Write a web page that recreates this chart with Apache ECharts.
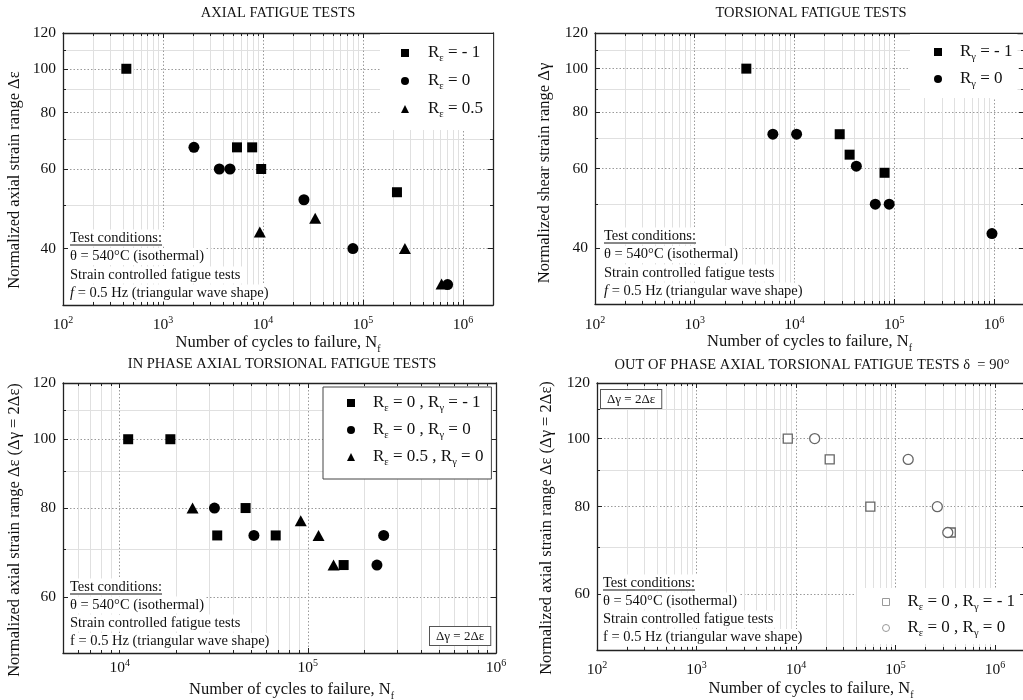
<!DOCTYPE html>
<html>
<head>
<meta charset="utf-8">
<script src="https://cdn.jsdelivr.net/npm/echarts@6/dist/echarts.min.js"></script>
<style>
html,body{margin:0;padding:0;background:#fff;}
#chart{width:1023px;height:700px;}
</style>
</head>
<body>
<div id="chart"></div>
<script>
// ---------------- DATA ----------------
// Panel 1: axial fatigue tests  (N = cycles to failure, V = normalized strain range)
const axialRm1N = [430, 5500, 7800, 9600, 219000];
const axialRm1V = [100, 67, 67, 60, 53.3];
const axialR0N = [2040, 3660, 4680, 25700, 79400, 703000];
const axialR0V = [67, 60, 60, 51.3, 40, 33.3];
const axialR05N = [9300, 33300, 263000, 612000];
const axialR05V = [43.5, 46.7, 40, 33.4];

// Panel 2: torsional fatigue tests
const torsRm1N = [3290, 28400, 35700, 80000];
const torsRm1V = [100, 71.5, 64.4, 58.7];
const torsR0N = [6070, 10500, 41700, 64600, 89000, 955000];
const torsR0V = [71.5, 71.5, 60.7, 50, 50, 43];

// Panel 3: in-phase axial torsional fatigue tests
const inPhaseAN = [11100, 18600, 46700, 33000, 67500, 155000];
const inPhaseAV = [100, 100, 80, 73.2, 73.2, 66.5];
const inPhaseBN = [31900, 51700, 253000, 233000];
const inPhaseBV = [80, 73.2, 73.2, 66.5];
const inPhaseCN = [24400, 91700, 114000, 137000];
const inPhaseCV = [80, 76.8, 73.2, 66.5];

// Panel 4: out-of-phase axial torsional fatigue tests (delta = 90 deg)
const outPhaseAN = [8260, 21800, 55800, 359000];
const outPhaseAV = [100, 93.4, 80, 73.5];
const outPhaseBN = [15400, 134000, 263000, 335000];
const outPhaseBV = [100, 93.4, 80, 73.5];

// Tick labels
const xDecadesWide = [2, 3, 4, 5, 6];      // 10^2 ... 10^6
const xDecadesNarrow = [4, 5, 6];          // 10^4 ... 10^6
const yTicksTop = [40, 60, 80, 100, 120];
const yMinorTop = [50, 70, 90, 110];
const yTicksBottom = [60, 80, 100, 120];
const yMinorBottom = [70, 90, 110];

const titles = [
  'AXIAL FATIGUE TESTS',
  'TORSIONAL FATIGUE TESTS',
  'IN PHASE AXIAL TORSIONAL FATIGUE TESTS',
  'OUT OF PHASE AXIAL TORSIONAL FATIGUE TESTS δ  = 90°'
];
const yNames = [
  'Normalized axial strain range Δε',
  'Normalized shear strain range Δγ',
  'Normalized axial strain range Δε (Δγ = 2Δε)',
  'Normalized axial strain range Δε (Δγ = 2Δε)'
];
const xName = 'Number of cycles to failure, N{sub|f}';

const legendText = {
  'Axial Rε=-1': 'R{s|ε} = - 1',
  'Axial Rε=0': 'R{s|ε} = 0',
  'Axial Rε=0.5': 'R{s|ε} = 0.5',
  'Torsional Rγ=-1': 'R{s|γ} = - 1',
  'Torsional Rγ=0': 'R{s|γ} = 0',
  'In phase Rε=0 Rγ=-1': 'R{s|ε} = 0 , R{s|γ} = - 1',
  'In phase Rε=0 Rγ=0': 'R{s|ε} = 0 , R{s|γ} = 0',
  'In phase Rε=0.5 Rγ=0': 'R{s|ε} = 0.5 , R{s|γ} = 0',
  'Out of phase Rε=0 Rγ=-1': 'R{s|ε} = 0 , R{s|γ} = - 1',
  'Out of phase Rε=0 Rγ=0': 'R{s|ε} = 0 , R{s|γ} = 0'
};

// ---------------- LAYOUT ----------------
const FONT = '"Liberation Serif", "Times New Roman", serif';
const INK = '#111';
const L = Math.log10;

const panels = [
  {grid:{left:63, top:33, width:430, height:272}, xMin:100, xMax:2e6, yMin:30, yMax:120,
   xTicks:xDecadesWide, yTicks:yTicksTop, yMinor:yMinorTop, xLabelMargin:10, xNameGap:27, xNamePad:0,
   yNameGap:40, yNamePad:22},
  {grid:{left:595, top:33, width:429, height:271}, xMin:100, xMax:2e6, yMin:30, yMax:120,
   xTicks:xDecadesWide, yTicks:yTicksTop, yMinor:yMinorTop, xLabelMargin:11, xNameGap:27, xNamePad:0,
   yNameGap:42, yNamePad:9},
  {grid:{left:63, top:383, width:433, height:270}, xMin:5000, xMax:1e6, yMin:50, yMax:120,
   xTicks:xDecadesNarrow, yTicks:yTicksBottom, yMinor:yMinorBottom, xLabelMargin:5, xNameGap:26, xNamePad:24,
   yNameGap:40, yNamePad:24},
  {grid:{left:597, top:383, width:428, height:267}, xMin:100, xMax:2e6, yMin:50, yMax:120,
   xTicks:xDecadesWide, yTicks:yTicksBottom, yMinor:yMinorBottom, xLabelMargin:10, xNameGap:28, xNamePad:0,
   yNameGap:42, yNamePad:23}
];

function minorDecadeTicks(lo, hi) {
  const out = [];
  for (let k = Math.floor(L(lo)); k <= Math.ceil(L(hi)); k++) {
    for (let m = 2; m <= 9; m++) {
      const v = m * Math.pow(10, k);
      if (v > lo && v < hi) out.push(L(v));
    }
  }
  return out;
}

const tickLine = {color: '#222', width: 1};
const grids = [], xAxes = [], yAxes = [];

function axisBase(gi) {
  return {type:'value', gridIndex:gi, nameMoveOverlap:false,
          axisLine:{show:false, onZero:false}, axisLabel:{show:false},
          axisTick:{show:false}, splitLine:{show:false}, silent:true};
}

panels.forEach((p, gi) => {
  grids.push(Object.assign({outerBoundsMode:'none', containLabel:false, show:false}, p.grid));
  const xmin = L(p.xMin), xmax = L(p.xMax), ymin = L(p.yMin), ymax = L(p.yMax);
  const xMaj = p.xTicks.slice();
  const xMin = minorDecadeTicks(p.xMin, p.xMax);
  const yMaj = p.yTicks.map(L);
  const yMin = p.yMinor.map(L);

  // ---- x axes ----
  xAxes.push(Object.assign(axisBase(gi), {position:'bottom', min:xmin, max:xmax,
    axisTick:{show:true, inside:true, length:3, customValues:xMin, lineStyle:tickLine},
    splitLine:{show:true, lineStyle:{color:'#e0e0e0', width:1}}}));
  p.xMain = xAxes.length;
  xAxes.push(Object.assign(axisBase(gi), {position:'bottom', min:xmin, max:xmax,
    axisLine:{show:true, onZero:false, lineStyle:{color:'#222', width:1.3}},
    axisTick:{show:true, inside:true, length:5, customValues:xMaj, lineStyle:tickLine},
    axisLabel:{show:true, customValues:xMaj, margin:p.xLabelMargin,
      formatter: v => '10{s|' + Math.round(v) + '}',
      color:INK, fontFamily:FONT, fontSize:15.5, lineHeight:20,
      rich:{s:{fontSize:10, fontFamily:FONT, color:INK, verticalAlign:'top', lineHeight:12}}},
    splitLine:{show:true, lineStyle:{color:'#9a9a9a', width:1, type:[1.5, 2]}},
    name:xName, nameLocation:'middle', nameGap:p.xNameGap,
    nameTextStyle:{color:INK, fontFamily:FONT, fontSize:16.5, lineHeight:22, padding:[0,0,0,p.xNamePad],
      rich:{sub:{fontSize:10, fontFamily:FONT, color:INK, verticalAlign:'bottom', lineHeight:10}}}}));
  xAxes.push(Object.assign(axisBase(gi), {position:'top', min:xmin, max:xmax,
    axisTick:{show:true, inside:true, length:3, customValues:xMin, lineStyle:tickLine}}));
  xAxes.push(Object.assign(axisBase(gi), {position:'top', min:xmin, max:xmax,
    axisLine:{show:true, onZero:false, lineStyle:{color:'#222', width:1.3}},
    axisTick:{show:true, inside:true, length:5, customValues:xMaj, lineStyle:tickLine}}));

  // ---- y axes ----
  yAxes.push(Object.assign(axisBase(gi), {position:'left', min:ymin, max:ymax,
    axisTick:{show:true, inside:true, length:3, customValues:yMin, lineStyle:tickLine},
    splitLine:{show:true, lineStyle:{color:'#e0e0e0', width:1}}}));
  p.yMain = yAxes.length;
  yAxes.push(Object.assign(axisBase(gi), {position:'left', min:ymin, max:ymax,
    axisLine:{show:true, onZero:false, lineStyle:{color:'#222', width:1.3}},
    axisTick:{show:true, inside:true, length:5, customValues:yMaj, lineStyle:tickLine},
    axisLabel:{show:true, customValues:yMaj, margin:7,
      formatter: v => String(Math.round(Math.pow(10, v))),
      color:INK, fontFamily:FONT, fontSize:15.5},
    splitLine:{show:true, lineStyle:{color:'#9a9a9a', width:1, type:[1.5, 2]}},
    name:yNames[gi], nameLocation:'middle', nameRotate:90, nameGap:p.yNameGap,
    nameTextStyle:{color:INK, fontFamily:FONT, fontSize:16.5, padding:[0,p.yNamePad,0,0]}}));
  yAxes.push(Object.assign(axisBase(gi), {position:'right', min:ymin, max:ymax,
    axisTick:{show:true, inside:true, length:3, customValues:yMin, lineStyle:tickLine}}));
  yAxes.push(Object.assign(axisBase(gi), {position:'right', min:ymin, max:ymax,
    axisLine:{show:true, onZero:false, lineStyle:{color:'#222', width:1.3}},
    axisTick:{show:true, inside:true, length:5, customValues:yMaj, lineStyle:tickLine}}));
});

function pts(ns, vs) { return ns.map((n, i) => [L(n), L(vs[i])]); }

function scatter(name, pi, ns, vs, symbol, size, itemStyle) {
  return {type:'scatter', name:name, xAxisIndex:panels[pi].xMain, yAxisIndex:panels[pi].yMain,
    data:pts(ns, vs), symbol:symbol, symbolSize:size, itemStyle:itemStyle, z:5,
    emphasis:{disabled:true}, silent:true, animation:false};
}
const solid = {color:'#000', opacity:1};
const openMark = {color:'#fff', borderColor:'#666', borderWidth:1.3, opacity:1};

const series = [
  scatter('Axial Rε=-1', 0, axialRm1N, axialRm1V, 'rect', 10, solid),
  scatter('Axial Rε=0', 0, axialR0N, axialR0V, 'circle', 11, solid),
  scatter('Axial Rε=0.5', 0, axialR05N, axialR05V, 'triangle', [12, 11], solid),
  scatter('Torsional Rγ=-1', 1, torsRm1N, torsRm1V, 'rect', 10, solid),
  scatter('Torsional Rγ=0', 1, torsR0N, torsR0V, 'circle', 11, solid),
  scatter('In phase Rε=0 Rγ=-1', 2, inPhaseAN, inPhaseAV, 'rect', 10, solid),
  scatter('In phase Rε=0 Rγ=0', 2, inPhaseBN, inPhaseBV, 'circle', 11, solid),
  scatter('In phase Rε=0.5 Rγ=0', 2, inPhaseCN, inPhaseCV, 'triangle', [12, 11], solid),
  scatter('Out of phase Rε=0 Rγ=-1', 3, outPhaseAN, outPhaseAV, 'rect', 9, openMark),
  scatter('Out of phase Rε=0 Rγ=0', 3, outPhaseBN, outPhaseBV, 'circle', 10, openMark)
];

// ---------------- LEGENDS ----------------
function legendTextStyle(pad) {
  return {color:INK, fontFamily:FONT, fontSize:17, lineHeight:22, padding:[0,0,0,pad],
    rich:{s:{fontSize:10.5, fontFamily:FONT, color:INK, verticalAlign:'bottom', lineHeight:10}}};
}
function legend(items, cfg) {
  return Object.assign({
    orient:'vertical', selectedMode:false, itemWidth:8, itemHeight:8,
    backgroundColor:'#fff', borderWidth:0, align:'left',
    data: items.map(([name, icon]) => ({name:name, icon:icon})),
    formatter: n => legendText[n], textStyle:legendTextStyle(cfg.textPad)
  }, cfg.opts);
}
const legends = [
  legend([['Axial Rε=-1','rect'],['Axial Rε=0','circle'],['Axial Rε=0.5','triangle']],
    {textPad:14, opts:{left:380, top:34, padding:[8,10,10,21], itemGap:6}}),
  legend([['Torsional Rγ=-1','rect'],['Torsional Rγ=0','circle']],
    {textPad:13, opts:{left:910, top:34, padding:[7,5,8,24], itemGap:5}}),
  legend([['In phase Rε=0 Rγ=-1','rect'],['In phase Rε=0 Rγ=0','circle'],['In phase Rε=0.5 Rγ=0','triangle']],
    {textPad:13, opts:{left:323, top:387, padding:[5,8,11,24], itemGap:5, borderColor:'#444', borderWidth:1}}),
  legend([['Out of phase Rε=0 Rγ=-1','rect'],['Out of phase Rε=0 Rγ=0','circle']],
    {textPad:13, opts:{left:857, top:588, padding:[3,5,5,25], itemGap:4, itemWidth:7, itemHeight:7,
      itemStyle:{borderColor:'#999', borderWidth:1}}})
];

// ---------------- ANNOTATIONS ----------------
const condFontSize = 14.5;
const measureCtx = document.createElement('canvas').getContext('2d');
measureCtx.font = condFontSize + 'px ' + FONT;
const underlineW = measureCtx.measureText('Test conditions:').width;

const graphics = [];
function conditions(x, ys, italicF) {
  const lines = ['Test conditions:', 'θ = 540°C (isothermal)', 'Strain controlled fatigue tests',
    (italicF ? '{i|f}' : 'f') + ' = 0.5 Hz (triangular wave shape)'];
  lines.forEach((t, i) => {
    graphics.push({type:'text', x:x, y:ys[i], z:100, silent:true,
      style:{text:t, fill:INK, fontFamily:FONT, fontSize:condFontSize, verticalAlign:'middle', align:'left',
        backgroundColor:'#fff', padding:[1,2,1,2],
        rich:{i:{fontStyle:'italic', fontFamily:FONT, fontSize:condFontSize, fill:INK}}}});
  });
  graphics.push({type:'line', z:101, silent:true,
    shape:{x1:x+2, y1:ys[0]+7, x2:x+2+underlineW, y2:ys[0]+7}, style:{stroke:INK, lineWidth:1}});
}
conditions(68, [238, 256.5, 275, 293], true);
conditions(602, [236, 254.5, 273, 291], true);
conditions(68, [587, 605, 623, 641.5], false);
conditions(601, [583, 601, 619, 637.5], false);

function ratioBox(x, y) {
  graphics.push({type:'text', x:x, y:y, z:100, silent:true,
    style:{text:'Δγ = 2Δε', fill:INK, fontFamily:FONT, fontSize:13, align:'left', verticalAlign:'top',
      backgroundColor:'#fff', borderColor:'#555', borderWidth:1, padding:[3,6,2,6]}});
}
ratioBox(430, 627);
ratioBox(601, 390);

const titleCenters = [[278, 6], [811, 6], [282, 357], [812, 358]];
const titleOpts = titles.map((t, i) => ({
  text:t, left:titleCenters[i][0], top:titleCenters[i][1], textAlign:'center', padding:0,
  textStyle:{color:INK, fontFamily:FONT, fontSize:14.5, fontWeight:'normal'}
}));

const chart = echarts.init(document.getElementById('chart'), null, {renderer:'canvas'});
chart.setOption({
  backgroundColor:'#fff',
  animation:false,
  title:titleOpts,
  grid:grids,
  xAxis:xAxes,
  yAxis:yAxes,
  legend:legends,
  series:series,
  graphic:graphics,
  tooltip:{show:false}
});
</script>
</body>
</html>
